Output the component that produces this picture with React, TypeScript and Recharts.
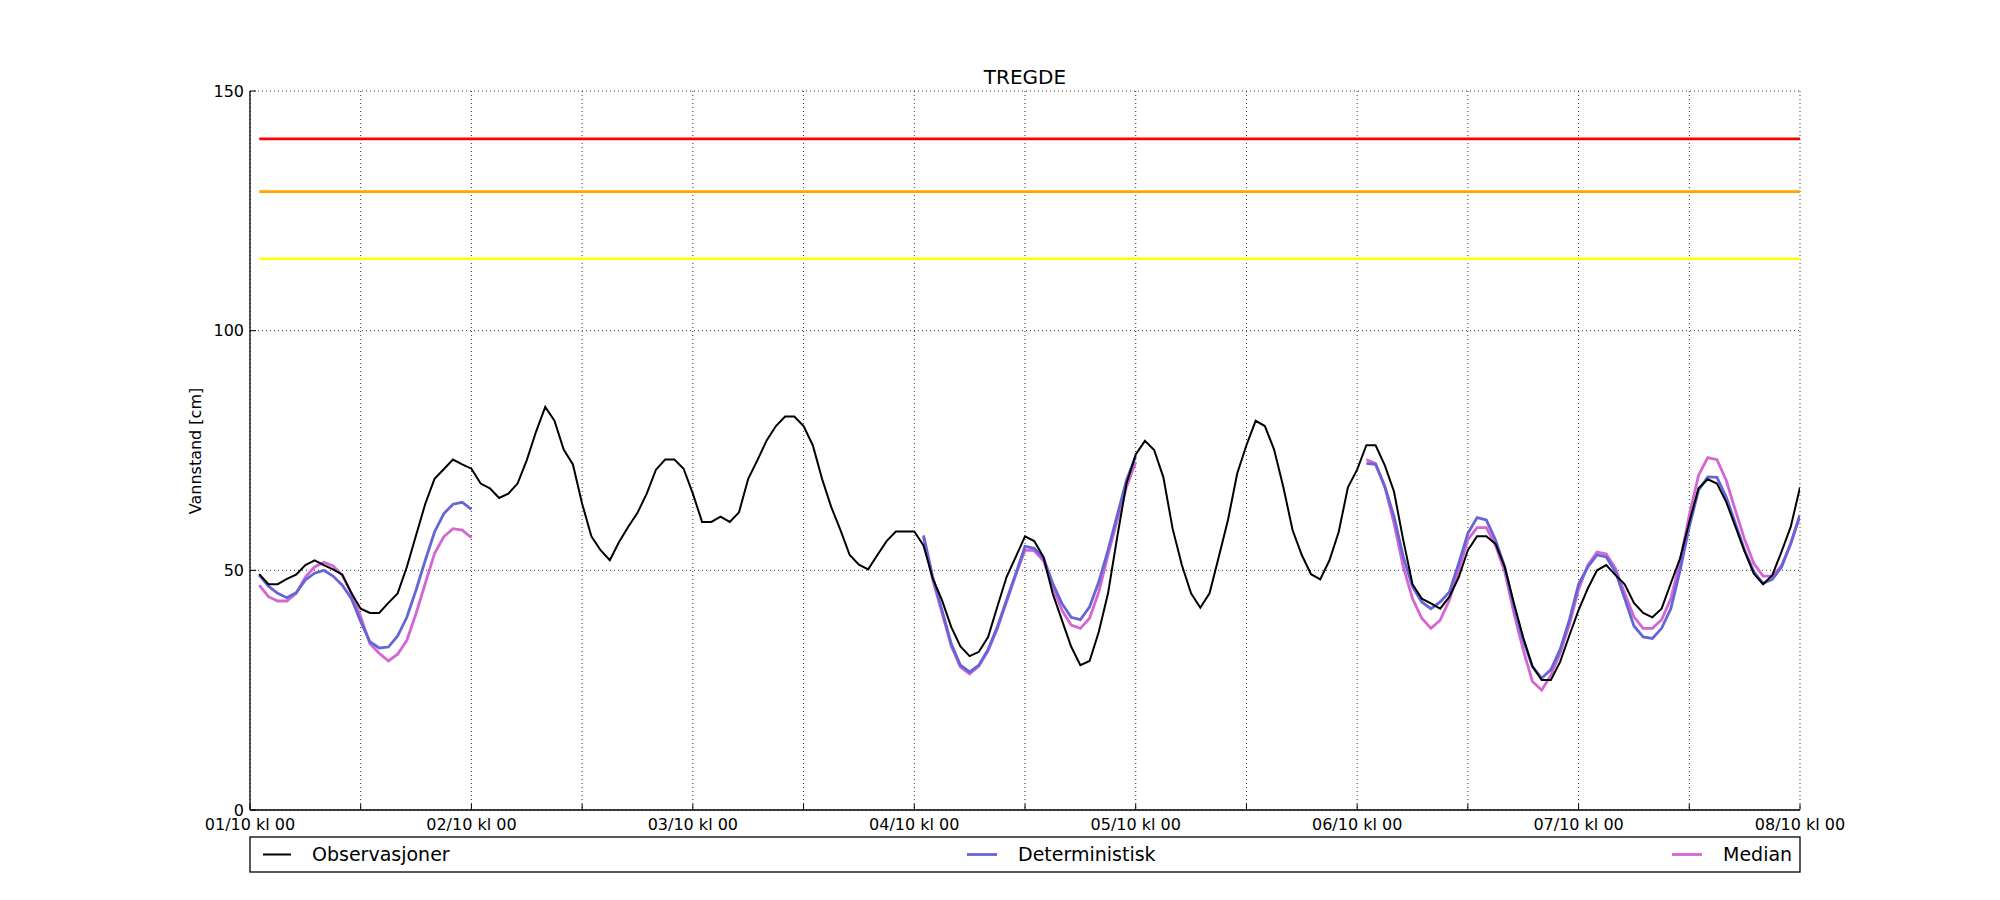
import React from 'react';
import { LineChart, Line, XAxis, YAxis, CartesianGrid } from 'recharts';

// hourly time steps (hours after 01/10 kl 00)
const hours: number[] = Array.from({ length: 168 }, (_, i) => i + 1);

const observasjoner: number[] = [
  49.2, 47.1, 47.1, 48.2, 49.1, 51.1, 52.1, 51.1, 50.2, 49.1, 45.2, 42.0, 41.1, 41.1, 43.2, 45.2,
  50.7, 57.3, 63.9, 69.1, 71.1, 73.1, 72.1, 71.2, 68.1, 67.1, 65.1, 66.0, 68.1, 73.0, 78.9, 84.1,
  81.2, 75.2, 72.1, 63.9, 57.1, 54.2, 52.1, 55.9, 59.1, 62.0, 66.0, 71.0, 73.1, 73.1, 71.2, 66.0,
  60.1, 60.1, 61.2, 60.1, 62.1, 69.1, 73.0, 77.1, 80.1, 82.1, 82.1, 80.1, 76.1, 69.1, 63.2, 58.4,
  53.2, 51.2, 50.2, 53.2, 56.1, 58.1, 58.1, 58.1, 55.2, 48.3, 43.8, 38.2, 34.1, 32.1, 33.0, 36.1,
  42.4, 48.6, 52.8, 57.1, 56.1, 52.8, 45.2, 39.6, 34.1, 30.2, 31.1, 37.2, 45.2, 57.0, 68.1, 74.2,
  77.0, 75.1, 69.4, 58.7, 51.1, 45.2, 42.2, 45.2, 52.8, 60.5, 70.2, 76.1, 81.2, 80.1, 75.2, 67.4,
  58.4, 53.2, 49.2, 48.1, 52.1, 58.0, 67.3, 71.0, 76.1, 76.1, 71.9, 66.4, 56.3, 47.1, 44.1, 43.1,
  42.0, 44.5, 48.5, 54.2, 57.1, 57.1, 55.5, 50.7, 43.1, 36.0, 30.0, 27.1, 27.1, 30.9, 36.4, 41.7,
  46.2, 50.0, 51.1, 49.0, 47.1, 43.2, 41.1, 40.2, 42.0, 47.3, 52.5, 60.1, 67.1, 69.0, 68.1, 64.3,
  59.1, 53.9, 49.3, 47.1, 49.0, 53.9, 59.1, 67.3,
];

// forecast runs: first hour of each run
const forecastStarts: number[] = [1, 73, 121];

const deterministisk1: number[] = [
  49.0, 46.7, 45.2, 44.3, 45.3, 48.0, 49.4, 50.0, 48.8, 46.9, 44.1, 39.3, 35.1, 33.8, 34.0, 36.3,
  40.2, 45.9, 52.1, 58.0, 61.8, 63.8, 64.2, 62.7,
];
const deterministisk2: number[] = [
  57.3, 48.6, 41.7, 34.7, 30.2, 28.8, 30.2, 33.5, 38.2, 43.8, 49.3, 55.0, 54.6, 52.6, 47.3, 43.1,
  40.2, 39.7, 42.4, 47.6, 54.2, 61.5, 68.8, 73.8,
];
const deterministisk3: number[] = [
  72.3, 72.1, 67.5, 61.2, 52.8, 46.6, 43.4, 42.0, 43.4, 45.5, 51.4, 57.7, 61.0, 60.5, 56.3, 50.7,
  42.4, 35.4, 29.9, 27.5, 29.3, 33.5, 39.6, 47.1, 50.7, 53.2, 52.8, 49.7, 44.1, 38.4, 36.1, 35.8,
  37.9, 42.0, 50.0, 59.1, 66.7, 69.5, 69.4, 65.3, 59.8, 54.2, 49.7, 47.3, 48.1, 50.7, 55.6, 61.5,
];

const median1: number[] = [
  46.9, 44.5, 43.6, 43.6, 45.2, 48.6, 50.7, 51.7, 50.9, 49.0, 45.2, 40.3, 34.7, 32.7, 31.1, 32.5,
  35.4, 41.0, 47.3, 53.5, 57.0, 58.7, 58.4, 56.8,
];
const median2: number[] = [
  57.0, 48.0, 41.2, 34.2, 29.8, 28.4, 30.0, 33.2, 37.8, 43.4, 49.0, 54.2, 54.1, 52.0, 46.6, 41.7,
  38.6, 37.9, 40.0, 45.5, 53.2, 60.5, 67.4, 72.6,
];
const median3: number[] = [
  73.1, 72.3, 67.4, 59.8, 50.7, 44.1, 40.0, 37.9, 39.6, 43.8, 50.0, 56.4, 58.9, 58.9, 55.2, 49.7,
  41.0, 33.4, 26.8, 25.0, 28.1, 32.7, 38.7, 46.0, 51.1, 53.8, 53.4, 50.4, 45.2, 40.3, 37.9, 37.9,
  39.7, 44.1, 51.8, 61.5, 69.8, 73.5, 73.1, 68.8, 62.5, 56.4, 51.4, 48.8, 48.8, 51.0, 55.6, 61.5,
];

// warning levels [cm]
const levelRed = 140;
const levelOrange = 129;
const levelYellow = 115;

const xTicks: number[] = [0, 12, 24, 36, 48, 60, 72, 84, 96, 108, 120, 132, 144, 156, 168];
const dayLabels: string[] = [
  '01/10 kl 00', '02/10 kl 00', '03/10 kl 00', '04/10 kl 00',
  '05/10 kl 00', '06/10 kl 00', '07/10 kl 00', '08/10 kl 00',
];
const yTicks: number[] = [0, 50, 100, 150];

const FONT = '"DejaVu Sans", sans-serif';
const C_OBS = '#000000';
const C_DET = '#6565d9';
const C_MED = '#d466d4';

function segValue(segs: number[][], h: number): number | null {
  for (let k = 0; k < forecastStarts.length; k++) {
    const idx = h - forecastStarts[k];
    if (idx >= 0 && idx < segs[k].length) return segs[k][idx];
  }
  return null;
}

const detSegs = [deterministisk1, deterministisk2, deterministisk3];
const medSegs = [median1, median2, median3];

const rows = hours.map((h, i) => ({
  h,
  obs: observasjoner[i],
  det: segValue(detSegs, h),
  med: segValue(medSegs, h),
  red: levelRed,
  orange: levelOrange,
  yellow: levelYellow,
}));

const TICK_LEN = 6;

const BottomTick = (props: any) => {
  const { x, y, payload } = props;
  const v = payload.value as number;
  const label = v % 24 === 0 ? dayLabels[v / 24] : null;
  return (
    <g>
      <line x1={x} x2={x} y1={y} y2={y - TICK_LEN} stroke="#000" strokeWidth={1} />
      {label && (
        <text x={x} y={y + 20} textAnchor="middle" fontSize={16} fontFamily={FONT} fill="#000">
          {label}
        </text>
      )}
    </g>
  );
};

const TopTick = (props: any) => {
  const { x, y } = props;
  return <line x1={x} x2={x} y1={y} y2={y + TICK_LEN} stroke="#000" strokeWidth={1} />;
};

const LeftTick = (props: any) => {
  const { x, y, payload } = props;
  return (
    <g>
      <line x1={x} x2={x + TICK_LEN} y1={y} y2={y} stroke="#000" strokeWidth={1} />
      <text x={x - 6} y={y} dy="0.35em" textAnchor="end" fontSize={16} fontFamily={FONT} fill="#000">
        {payload.value}
      </text>
    </g>
  );
};

const RightTick = (props: any) => {
  const { x, y } = props;
  return <line x1={x} x2={x - TICK_LEN} y1={y} y2={y} stroke="#000" strokeWidth={1} />;
};

const axisLineStyle = { stroke: '#000', strokeWidth: 1.3 };

export default function App() {
  return (
    <div
      style={{
        position: 'absolute',
        left: 0,
        top: 0,
        width: 2000,
        height: 900,
        background: '#fff',
        fontFamily: FONT,
      }}
    >
      <LineChart
        width={2000}
        height={900}
        data={rows}
        margin={{ top: 91, right: 200, bottom: 60, left: 190 }}
      >
        <CartesianGrid
          xAxisId="b"
          yAxisId="l"
          stroke="#000"
          strokeWidth={0.8}
          strokeDasharray="1 3"
        />
        <XAxis
          xAxisId="b"
          dataKey="h"
          type="number"
          domain={[0, 168]}
          ticks={xTicks}
          interval={0}
          tick={BottomTick}
          tickLine={false}
          tickSize={0}
          tickMargin={0}
          axisLine={axisLineStyle}
          height={30}
          allowDataOverflow
        />
        <XAxis
          xAxisId="t"
          orientation="top"
          type="number"
          dataKey="h"
          domain={[0, 168]}
          ticks={xTicks}
          interval={0}
          tick={TopTick}
          tickLine={false}
          tickSize={0}
          tickMargin={0}
          axisLine={axisLineStyle}
          height={0}
          allowDataOverflow
        />
        <YAxis
          yAxisId="l"
          type="number"
          domain={[0, 150]}
          ticks={yTicks}
          interval={0}
          tick={LeftTick}
          tickLine={false}
          tickSize={0}
          tickMargin={0}
          axisLine={axisLineStyle}
          width={60}
          allowDataOverflow
        />
        <YAxis
          yAxisId="r"
          orientation="right"
          type="number"
          domain={[0, 150]}
          ticks={yTicks}
          interval={0}
          tick={RightTick}
          tickLine={false}
          tickSize={0}
          tickMargin={0}
          axisLine={axisLineStyle}
          width={0}
          allowDataOverflow
        />
        <Line xAxisId="b" yAxisId="l" dataKey="red" stroke="#ff0000" strokeWidth={2.7} dot={false} activeDot={false} isAnimationActive={false} />
        <Line xAxisId="b" yAxisId="l" dataKey="orange" stroke="#ffa500" strokeWidth={2.7} dot={false} activeDot={false} isAnimationActive={false} />
        <Line xAxisId="b" yAxisId="l" dataKey="yellow" stroke="#ffff00" strokeWidth={2.7} dot={false} activeDot={false} isAnimationActive={false} />
        <Line xAxisId="b" yAxisId="l" dataKey="med" stroke={C_MED} strokeWidth={2.8} dot={false} activeDot={false} connectNulls={false} isAnimationActive={false} />
        <Line xAxisId="b" yAxisId="l" dataKey="det" stroke={C_DET} strokeWidth={2.8} dot={false} activeDot={false} connectNulls={false} isAnimationActive={false} />
        <Line xAxisId="b" yAxisId="l" dataKey="obs" stroke={C_OBS} strokeWidth={2} dot={false} activeDot={false} isAnimationActive={false} />
      </LineChart>
      <svg
        width={2000}
        height={900}
        style={{ position: 'absolute', left: 0, top: 0, pointerEvents: 'none' }}
      >
        <text x={1025} y={84} textAnchor="middle" fontSize={20} fontFamily={FONT} fill="#000">
          TREGDE
        </text>
        <text
          transform="translate(201,451) rotate(-90)"
          textAnchor="middle"
          fontSize={16}
          fontFamily={FONT}
          fill="#000"
        >
          Vannstand [cm]
        </text>
        <rect x={250} y={837} width={1550} height={35} fill="#fff" stroke="#000" strokeWidth={1.3} />
        <line x1={263} x2={291} y1={854.5} y2={854.5} stroke={C_OBS} strokeWidth={2} />
        <text x={312} y={861} fontSize={19} fontFamily={FONT} fill="#000">Observasjoner</text>
        <line x1={967} x2={997} y1={854.5} y2={854.5} stroke={C_DET} strokeWidth={2.8} />
        <text x={1018} y={861} fontSize={19} fontFamily={FONT} fill="#000">Deterministisk</text>
        <line x1={1672} x2={1702} y1={854.5} y2={854.5} stroke={C_MED} strokeWidth={2.8} />
        <text x={1723} y={861} fontSize={19} fontFamily={FONT} fill="#000">Median</text>
      </svg>
    </div>
  );
}
